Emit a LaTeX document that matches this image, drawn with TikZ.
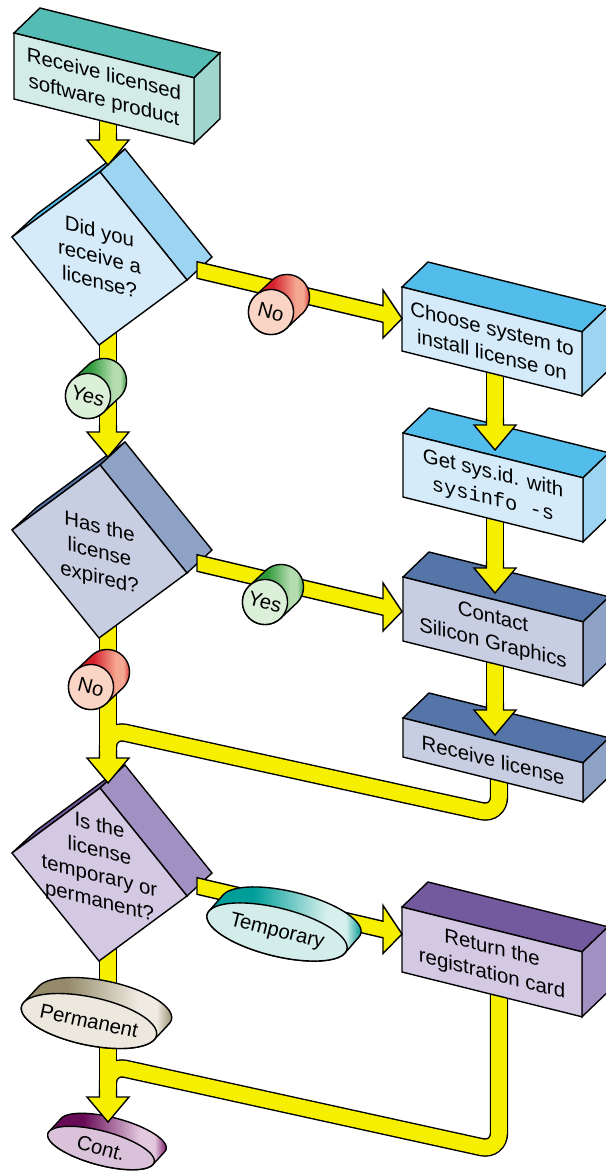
\documentclass[tikz,border=0pt]{standalone}
\usepackage{fontspec}
\setmainfont{Liberation Sans}
\setmonofont{Liberation Mono}
\usetikzlibrary{calc}

% arrows
\definecolor{arrowyellow}{HTML}{F6F000}
% box / diamond palettes: F front, T top, S side
\definecolor{tealF}{HTML}{D3ECE7}\definecolor{tealT}{HTML}{54BCB4}\definecolor{tealS}{HTML}{A0D6CF}
\definecolor{blueF}{HTML}{D5EBF9}\definecolor{blueT}{HTML}{52BCEB}\definecolor{blueS}{HTML}{9DD4F2}
\definecolor{slateF}{HTML}{C7CEE2}\definecolor{slateT}{HTML}{5574A7}\definecolor{slateS}{HTML}{8EA2C6}
\definecolor{lilacF}{HTML}{D3C9E3}\definecolor{lilacT}{HTML}{735A9E}\definecolor{lilacS}{HTML}{A191C2}
% puck palettes: F face, D dark, L light, E edge
\definecolor{redF}{HTML}{FAD4C5}\definecolor{redD}{HTML}{D5202D}\definecolor{redL}{HTML}{F5A891}\definecolor{redE}{HTML}{DB3A3E}
\definecolor{greenF}{HTML}{DCEFD8}\definecolor{greenD}{HTML}{2E9A3A}\definecolor{greenL}{HTML}{B4DCAE}\definecolor{greenE}{HTML}{3E9F47}
\definecolor{tqF}{HTML}{D3EDEA}\definecolor{tqD}{HTML}{009E99}\definecolor{tqL}{HTML}{D8F0ED}\definecolor{tqE}{HTML}{0A9C97}
\definecolor{khF}{HTML}{ECE8DE}\definecolor{khD}{HTML}{948A69}\definecolor{khL}{HTML}{EFEBE2}\definecolor{khE}{HTML}{9C9273}
\definecolor{plF}{HTML}{DAC3DA}\definecolor{plD}{HTML}{680B57}\definecolor{plL}{HTML}{E3C9DF}\definecolor{plE}{HTML}{7D1D6B}

\pgfdeclarehorizontalshading{redside}{100bp}{color(0bp)=(redD); color(25bp)=(redD); color(45bp)=(redD); color(64bp)=(redL); color(70bp)=(redL); color(75bp)=(redE); color(100bp)=(redE)}
\pgfdeclarehorizontalshading{greenside}{100bp}{color(0bp)=(greenD); color(25bp)=(greenD); color(45bp)=(greenD); color(64bp)=(greenL); color(70bp)=(greenL); color(75bp)=(greenE); color(100bp)=(greenE)}
\pgfdeclarehorizontalshading{tqside}{100bp}{color(0bp)=(tqD); color(25bp)=(tqD); color(40bp)=(tqD); color(64bp)=(tqL); color(70bp)=(tqL); color(75bp)=(tqE); color(100bp)=(tqE)}
\pgfdeclarehorizontalshading{khside}{100bp}{color(0bp)=(khD); color(25bp)=(khD); color(40bp)=(khD); color(64bp)=(khL); color(70bp)=(khL); color(75bp)=(khE); color(100bp)=(khE)}
\pgfdeclarehorizontalshading{plside}{100bp}{color(0bp)=(plD); color(25bp)=(plD); color(40bp)=(plD); color(64bp)=(plL); color(70bp)=(plL); color(75bp)=(plE); color(100bp)=(plE)}

\tikzset{
  outl/.style={draw=black, line width=0.7pt},
  shaftK/.style={draw=black, line width=9.2pt},
  shaftY/.style={draw=arrowyellow, line width=7.8pt},
  headst/.style={fill=arrowyellow, draw=black, line width=0.7pt},
  boxtext/.style={font=\fontsize{10.2}{13}\selectfont, align=center, inner sep=0pt, yslant=-0.249},
  dectext/.style={font=\fontsize{10.2}{12.6}\selectfont, align=center, inner sep=0pt, yslant=-0.249},
  pucktext/.style={font=\fontsize{10.2}{12}\selectfont, inner sep=0pt},
}

% slanted box: #1 name, #2 x, #3 y of front top-left corner, #4 height, #5 palette, #6 label
\newcommand\slab[6]{%
  \path[outl,fill=#5T] (#2,#3) -- ++(26,-25) -- ++(180,44.8) -- ++(-26,25) -- cycle;
  \path[outl,fill=#5S] ($(#2,#3)+(180,44.8)$) -- ++(26,-25) -- ++(0,#4) -- ++(-26,25) -- cycle;
  \path[outl,fill=#5F] (#2,#3) -- ++(180,44.8) -- ++(0,#4) -- ++(-180,-44.8) -- cycle;
  \node[boxtext] (#1) at ($(#2,#3)+(90,{22.4+#4/2})$) {#6};
}

% decision block seen corner-on: #1 name, #2 x, #3 y of left corner, #4 palette
\newcommand\decision[4]{%
  \coordinate (#1-L) at (#2,#3);
  \coordinate (#1-T) at ($(#1-L)+(88,-65)$);
  \coordinate (#1-R) at ($(#1-T)+(87,108)$);
  \coordinate (#1-B) at ($(#1-L)+(87,108)$);
  \path[outl,fill=#4T] (#1-L) -- ++(25,-23) -- ($(#1-T)+(25,-23)$) -- (#1-T) -- cycle;
  \path[outl,fill=#4S] (#1-T) -- ++(25,-23) -- ($(#1-R)+(25,-23)$) -- (#1-R) -- cycle;
  \path[outl,fill=#4F] (#1-L) -- (#1-T) -- (#1-R) -- (#1-B) -- cycle;
}

% puck: #1 centre of front face, #2 #3 half axes, #4 tilt, #5 #6 depth, #7 palette, #8 label
\newcommand\puck[8]{%
  \begin{scope}[shift={(#1)}]
    \pgfmathsetmacro\pkc{cos(#4)}\pgfmathsetmacro\pks{sin(#4)}
    \pgfmathsetmacro\pkdu{(#5)*\pkc+(#6)*\pks}
    \pgfmathsetmacro\pkdv{-(#5)*\pks+(#6)*\pkc}
    \pgfmathsetmacro\pktz{atan2(-(#3)*\pkdu,(#2)*\pkdv)}
    \pgfmathsetmacro\pktf{atan2((#3)*\pkdv,(#2)*\pkdu)}
    \pgfmathsetmacro\pkts{mod(mod(\pktf-\pktz,360)+360,360)<180 ? \pktz : \pktz+180}
    \shadedraw[shading=#7side, line width=0.7pt]
      plot[domain=\pkts:\pkts+180, samples=40]
        ({#5+#2*cos(\x)*\pkc-#3*sin(\x)*\pks},{#6+#2*cos(\x)*\pks+#3*sin(\x)*\pkc})
      -- plot[domain=\pkts+180:\pkts+360, samples=40]
        ({#2*cos(\x)*\pkc-#3*sin(\x)*\pks},{#2*cos(\x)*\pks+#3*sin(\x)*\pkc})
      -- cycle;
    \path[outl,fill=#7F] plot[domain=0:360, samples=72]
        ({#2*cos(\x)*\pkc-#3*sin(\x)*\pks},{#2*cos(\x)*\pks+#3*sin(\x)*\pkc}) -- cycle;
  \end{scope}
  \node[pucktext, rotate=-#4] (#1-lbl) at (#1) {#8};
}

% arrow head pointing down, tip at #1
\newcommand\vhead[1]{%
  \path[headst] ($(#1)+(-8.5,-32)$) -- ($(#1)+(-8.5,-25)$) -- ($(#1)+(-21,-25)$) -- (#1)
    -- ($(#1)+(21,-25)$) -- ($(#1)+(8.5,-25)$) -- ($(#1)+(8.5,-32)$);
}

% sloping arrow from tail #1 to tip #2
\newcommand\harrow[2]{%
  \path[headst] ($(#1)+(0,-8.3)$) -- ($(#2)+(-19,-12.8)$) -- ($(#2)+(-19,-28.5)$) -- (#2)
    -- ($(#2)+(-19,19.5)$) -- ($(#2)+(-19,3.8)$) -- ($(#1)+(0,8.3)$) -- cycle;
}

% all straight and bent shafts, drawn once as outline and once as fill
\newcommand\shaftpath[1]{%
  \path[#1] (recv-out) -- ($(d1-in)+(0,-25)$)
    (d1-out) -- ($(d2-in)+(0,-25)$)
    (d2-out) -- ($(d3-in)+(0,-25)$)
    (d3-out) -- ($(cont-in)+(0,-25)$)
    (choose-out) -- ($(sysid-in)+(0,-25)$)
    (sysid-out) -- ($(contact-in)+(0,-25)$)
    (contact-out) -- ($(getlic-in)+(0,-25)$);
  \path[#1, rounded corners=9pt] (getlic-out) -- (bend1) -- (join1) -- ($(join1)+(0,30)$);
  \path[#1, rounded corners=9pt] (regcard-out) -- (bend2) -- (join2) -- ($(join2)+(0,30)$);
}

\begin{document}
\begin{tikzpicture}[x=0.5pt, y=-0.5pt]
\fill[white] (0,0) rectangle (605,1171);
\useasboundingbox (0,0) rectangle (605,1171);

% connection points
\coordinate (recv-out) at (108,115);
\coordinate (d1-in) at (108,165);
\coordinate (d1-out) at (108,330);
\coordinate (d2-in) at (108,457);
\coordinate (d2-out) at (108,622);
\coordinate (d3-in) at (108,783);
\coordinate (d3-out) at (108,945);
\coordinate (cont-in) at (108,1122);
\coordinate (choose-out) at (495,365);
\coordinate (sysid-in) at (495,450);
\coordinate (sysid-out) at (495,510);
\coordinate (contact-in) at (495,593);
\coordinate (contact-out) at (495,655);
\coordinate (getlic-in) at (495,735);
\coordinate (getlic-out) at (499,770);
\coordinate (bend1) at (499,815);
\coordinate (join1) at (108,729);
\coordinate (regcard-out) at (499,990);
\coordinate (bend2) at (499,1151);
\coordinate (join2) at (108,1065);
\coordinate (d1-side) at (197,270);
\coordinate (choose-in) at (402,318.5);
\coordinate (d2-side) at (197,563);
\coordinate (contact-side) at (402,611.5);
\coordinate (d3-side) at (197,886);
\coordinate (regcard-in) at (402,934);
% puck centres
\coordinate (no1) at (271,312);
\coordinate (yes1) at (88,396);
\coordinate (yes2) at (265,602);
\coordinate (no2) at (91,687);
\coordinate (temp) at (277,932);
\coordinate (perm) at (89,1021);
\coordinate (cont) at (101,1148);

% shafts
\shaftpath{shaftK}
\shaftpath{shaftY}

% process boxes
\slab{recv}{14}{33}{66}{teal}{Receive licensed\\software product}
\slab{choose}{402}{287}{64}{blue}{Choose system to\\install license on}
\slab{sysid}{403}{433}{64}{blue}{Get sys.id. with\\\texttt{sysinfo -s}}
\slab{contact}{403}{577}{64}{slate}{Contact\\Silicon Graphics}
\slab{getlic}{403}{718}{39}{slate}{Receive license}
\slab{regcard}{402}{907}{65}{lilac}{Return the\\registration card}

% decisions
\decision{d1}{12}{237}{blue}
\node[dectext] (q1) at ($(d1-L)!0.5!(d1-R)+(0,-2)$) {Did you\\receive a\\license?};
\decision{d2}{12}{530}{slate}
\node[dectext] (q2) at ($(d2-L)!0.5!(d2-R)+(0,2)$) {Has the\\license\\expired?};
\decision{d3}{12}{853}{lilac}
\node[dectext] (q3) at ($(d3-L)!0.5!(d3-R)+(0,-10)$) {Is the\\license\\temporary or\\permanent?};

% terminator
\puck{cont}{55}{17}{15}{12}{-13}{pl}{Cont.}

% arrow heads
\vhead{d1-in}
\vhead{d2-in}
\vhead{d3-in}
\vhead{cont-in}
\vhead{sysid-in}
\vhead{contact-in}
\vhead{getlic-in}
\harrow{d1-side}{choose-in}
\harrow{d2-side}{contact-side}
\harrow{d3-side}{regcard-in}

% answer labels
\puck{no1}{22.5}{22.5}{14}{16}{-15}{red}{No}
\puck{yes1}{22.5}{22.5}{14}{16}{-15}{green}{Yes}
\puck{yes2}{22.5}{22.5}{14}{16}{-15}{green}{Yes}
\puck{no2}{22.5}{22.5}{14}{16}{-15}{red}{No}
\puck{temp}{72}{24}{14}{14}{-16}{tq}{Temporary}
\puck{perm}{69}{24}{12}{15}{-16}{kh}{Permanent}
\end{tikzpicture}
\end{document}
